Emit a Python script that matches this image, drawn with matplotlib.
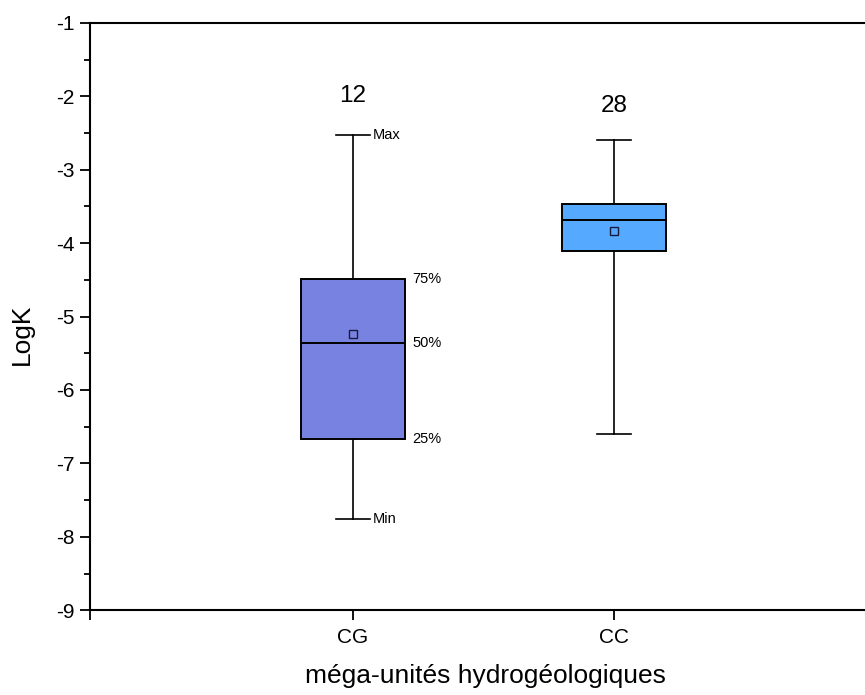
import matplotlib
matplotlib.use("Agg")
import matplotlib.pyplot as plt
from matplotlib.ticker import MultipleLocator

plt.rcParams["font.family"] = ["Liberation Sans", "DejaVu Sans"]
plt.rcParams["axes.unicode_minus"] = False

# data
categories = ["CG", "CC"]
counts = [12, 28]
whislo = [-7.76, -6.60]
q1 = [-6.67, -4.11]
med = [-5.36, -3.68]
q3 = [-4.49, -3.47]
whishi = [-2.53, -2.60]
means = [-5.24, -3.83]
box_colors = ["#7882E1", "#55AAFF"]
count_y = [-2.0, -2.13]

stats = []
for i, name in enumerate(categories):
    stats.append({
        "label": name,
        "whislo": whislo[i], "q1": q1[i], "med": med[i],
        "q3": q3[i], "whishi": whishi[i], "mean": means[i], "fliers": [],
    })

fig = plt.figure(figsize=(8.65, 6.95), dpi=100)
ax = fig.add_axes([0.104, 0.122, 0.896, 0.845])

positions = [1, 2]
bp = ax.bxp(
    stats, positions=positions, widths=0.40, patch_artist=True, showmeans=True,
    capwidths=0.13,
    boxprops=dict(linewidth=1.4, edgecolor="black"),
    medianprops=dict(color="black", linewidth=1.4),
    whiskerprops=dict(color="black", linewidth=1.2),
    capprops=dict(color="black", linewidth=1.2),
    meanprops=dict(marker="s", markersize=6, markerfacecolor="none",
                   markeredgecolor="#1a1a40", markeredgewidth=1.0),
)
for patch, c in zip(bp["boxes"], box_colors):
    patch.set_facecolor(c)

for x, n, y in zip(positions, counts, count_y):
    ax.text(x, y, str(n), ha="center", va="center", fontsize=17.5)

# annotation of the first box
x0 = positions[0]
for y, lab in [(q3[0], "75%"), (med[0], "50%"), (q1[0], "25%")]:
    ax.annotate(lab, (x0 + 0.20, y), xytext=(5, 0), textcoords="offset points",
                ha="left", va="center", fontsize=10.5)
for y, lab in [(whishi[0], "Max"), (whislo[0], "Min")]:
    ax.annotate(lab, (x0 + 0.065, y), xytext=(2, 0), textcoords="offset points",
                ha="left", va="center", fontsize=10.5)

x_left = -0.008
ax.set_xlim(x_left, 2.962)
ax.set_ylim(-9, -1)
ax.set_xticks([x_left] + positions)
ax.set_xticklabels([""] + categories)
ax.yaxis.set_major_locator(MultipleLocator(1))
ax.yaxis.set_minor_locator(MultipleLocator(0.5))
ax.tick_params(axis="both", which="major", direction="out", length=7.5, width=1.3,
               labelsize=15)
ax.tick_params(axis="y", which="minor", direction="out", length=4, width=1.3)
ax.tick_params(axis="x", pad=5)

for side in ["left", "top", "bottom"]:
    ax.spines[side].set_linewidth(1.5)
ax.spines["right"].set_visible(False)

ax.set_ylabel("LogK", fontsize=19)
ax.yaxis.set_label_coords(-0.073, 0.47)
fig.text(485 / 865, 1 - 664 / 695, "méga-unités hydrogéologiques",
         ha="center", va="top", fontsize=19)

fig.savefig("out.png", dpi=100)
